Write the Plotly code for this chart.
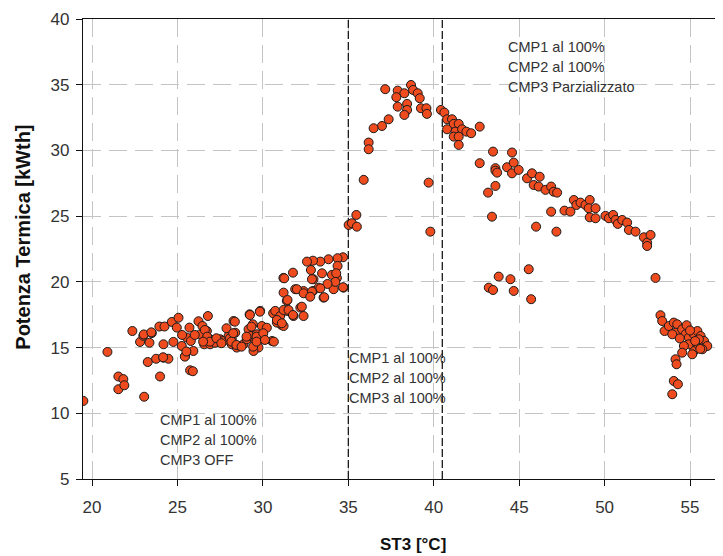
import plotly.graph_objects as go

# ST3 [°C] and Potenza Termica [kWth]
st3 = [
    19.49, 20.9, 21.54, 21.83, 21.54, 21.89, 22.36, 23.05, 22.81, 23.0, 23.36, 23.5, 23.26, 23.75, 23.98,
    23.94, 24.24, 24.18, 24.18, 24.47, 24.76, 24.67, 25.06, 24.96, 25.25, 25.45, 25.55, 25.7, 25.78, 25.74,
    25.9, 25.93, 26.23, 26.33, 26.46, 26.56, 26.72, 26.78, 26.91, 26.91, 27.2, 27.5, 27.69, 27.99, 28.18,
    28.28, 28.38, 28.18, 28.47, 28.67, 28.86, 29.06, 29.16, 29.22, 29.3, 29.41, 29.55, 29.65, 29.74, 29.84,
    29.94, 30.04, 30.23, 30.53, 29.45, 23.03, 23.47, 25.27, 26.01, 26.6, 26.74, 26.9, 26.5, 27.28, 27.57,
    28.07, 27.87, 28.36, 28.26, 28.16, 28.45, 28.75, 29.04, 29.33, 29.24, 29.82, 29.63, 30.02, 29.43, 29.63,
    30.12, 30.64, 30.6, 30.9, 31.09, 24.16, 25.43, 25.52,
    31.2, 31.89, 32.38, 32.96, 32.93, 33.26, 33.55, 34.14, 34.33, 34.72, 32.19, 32.38, 31.79, 31.4, 31.21,
    30.72, 30.82, 31.21, 31.4, 31.01, 34.69, 34.37, 33.84, 33.36, 32.93, 32.58, 32.81, 33.46, 34.04, 34.37,
    34.29, 31.76, 31.25, 32.87, 34.24, 33.78, 33.36, 34.69, 31.99, 32.38, 32.87, 33.59, 32.77, 31.44, 32.28,
    31.21, 31.5, 31.76, 30.82, 31.11,
    35.9, 39.7, 39.8, 35.47, 35.02, 35.21, 35.5, 37.16, 37.89, 38.28, 38.67, 38.79, 39.06, 39.18, 37.81,
    38.44, 37.89, 38.44, 38.28, 39.25, 39.57, 39.6, 37.36, 36.97, 36.48, 36.19, 36.19,
    40.42, 40.62, 40.78, 41.07, 41.17, 41.46, 40.78, 41.27, 41.66, 41.91, 42.19, 42.69, 41.17, 41.46, 41.46,
    43.47, 42.69, 43.61, 44.58, 43.61, 43.71, 44.29, 44.68, 44.58, 44.97, 45.46, 45.75, 46.2, 45.85, 46.14,
    46.54, 46.87, 47.02, 47.22, 43.61, 43.18, 46.87, 43.41, 45.99, 47.18, 47.65, 48.0, 48.2, 48.35, 48.59,
    48.88, 49.13, 49.07, 49.47, 49.13, 49.47, 50.05, 50.25, 50.5, 50.64, 50.77, 51.03, 51.32, 51.42, 51.81,
    52.3, 52.49, 52.69, 52.49, 45.56, 43.8, 44.49, 52.98, 43.22, 43.47, 44.68, 45.7,
    53.27, 53.37, 53.51, 53.76, 54.05, 54.25, 54.15, 53.96, 54.54, 54.8, 54.74, 54.93, 55.23, 55.43, 55.62,
    55.82, 56.01, 55.72, 55.23, 54.93, 54.64, 54.54, 55.13, 55.46, 54.15, 54.21, 54.05, 54.29, 53.96, 55.52,
    55.3, 55.6, 54.4, 55.0,
]
potenza = [
    10.94, 14.67, 12.8, 12.6, 11.83, 12.13, 16.26, 11.26, 15.43, 15.9, 15.37, 16.1, 13.9, 14.15, 12.8,
    16.6, 16.6, 15.25, 14.23, 14.15, 15.43, 16.95, 17.27, 16.52, 15.12, 14.36, 15.76, 16.52, 15.5, 13.27,
    13.2, 14.74, 17.0, 16.0, 16.64, 15.25, 16.26, 17.4, 15.63, 15.25, 15.37, 15.63, 15.5, 15.88, 15.63,
    17.02, 16.13, 15.25, 15.0, 15.12, 15.25, 15.63, 16.39, 17.53, 15.88, 16.77, 15.5, 16.01, 15.0, 17.79,
    16.64, 15.63, 16.51, 15.5, 14.74, 16.0, 16.16, 15.96, 15.96, 16.34, 15.83, 15.45, 15.45, 15.71, 15.33,
    15.71, 16.47, 16.97, 16.09, 15.45, 15.2, 15.07, 15.83, 16.59, 17.48, 17.73, 15.83, 16.09, 15.07, 15.45,
    15.58, 15.45, 17.61, 17.1, 16.72, 14.26, 14.31, 14.7,
    20.3, 19.44, 19.3, 20.2, 19.3, 19.56, 18.8, 19.44, 20.3, 19.56, 18.04, 17.4, 17.4, 18.55, 19.18,
    17.79, 16.9, 16.64, 17.79, 17.4, 21.87, 21.8, 21.72, 21.54, 21.61, 21.54, 20.9, 20.65, 20.53, 21.21,
    20.65, 20.7, 20.27, 20.2, 20.0, 19.84, 19.51, 19.59, 19.44, 19.13, 19.26, 18.83, 18.87, 18.62, 18.11,
    17.86, 17.86, 17.48, 17.1, 16.85,
    27.76, 27.55, 23.82, 25.09, 24.33, 24.46, 24.2, 34.66, 34.55, 34.35, 34.98, 34.6, 34.35, 33.97, 34.05,
    33.54, 33.33, 33.08, 32.7, 33.21, 33.21, 32.78, 32.37, 31.86, 31.69, 30.6, 30.09,
    33.08, 32.88, 32.37, 32.37, 32.02, 32.02, 31.61, 31.43, 31.61, 31.43, 31.31, 31.81, 31.05, 31.05, 30.42,
    29.91, 29.03, 28.65, 29.84, 28.46, 28.31, 28.72, 29.07, 28.26, 28.52, 27.88, 28.26, 28.0, 27.37, 27.25,
    27.0, 27.25, 26.86, 26.79, 27.3, 26.79, 25.34, 24.96, 24.2, 23.82, 25.42, 25.34, 26.23, 25.85, 26.03,
    25.85, 26.23, 25.6, 25.6, 24.91, 24.84, 25.02, 24.84, 25.09, 24.71, 24.41, 24.71, 24.51, 23.95, 23.82,
    23.39, 22.98, 23.57, 22.73, 20.96, 20.4, 20.2, 20.3, 19.56, 19.38, 19.31, 18.68,
    17.46, 17.02, 16.26, 16.64, 16.9, 16.77, 16.13, 16.01, 16.39, 16.7, 16.01, 15.76, 16.01, 16.26, 15.88,
    15.5, 15.12, 14.87, 14.74, 15.25, 15.12, 14.61, 14.49, 15.25, 14.11, 13.73, 12.46, 12.21, 11.45, 15.63,
    15.5, 14.9, 15.7, 16.3,
]

# regime boundaries (°C)
boundaries = [35.0, 40.5]

# regime labels: (x, first-line y, lines)
label_x = [23.84, 34.9, 44.24]
label_y = [9.47, 14.23, 37.9]
label_lines = [
    ["CMP1 al 100%", "CMP2 al 100%", "CMP3 OFF"],
    ["CMP1 al 100%", "CMP2 al 100%", "CMP3 al 100%"],
    ["CMP1 al 100%", "CMP2 al 100%", "CMP3 Parzializzato"],
]
line_step = 1.52  # data units between lines

x_ticks = [20, 25, 30, 35, 40, 45, 50, 55]
y_ticks = [5, 10, 15, 20, 25, 30, 35, 40]

fig = go.Figure()
fig.add_trace(go.Scatter(
    x=st3, y=potenza, mode="markers",
    marker=dict(size=9, color="#EE4B1F", line=dict(color="#1a1a1a", width=1)),
    showlegend=False, hoverinfo="skip",
))

for b in boundaries:
    fig.add_shape(type="line", x0=b, x1=b, y0=5, y1=40, xref="x", yref="y",
                  line=dict(color="#1a1a1a", width=1.3, dash="8px,3px"), layer="between")

for lx, ly, lines in zip(label_x, label_y, label_lines):
    for i, t in enumerate(lines):
        fig.add_annotation(x=lx, y=ly - i * line_step, text=t, showarrow=False,
                           xanchor="left", yanchor="middle",
                           font=dict(family="Liberation Sans, Arial", size=14.5, color="#333333"))

fig.add_annotation(xref="paper", yref="paper", x=0.516, y=-0.143, text="<b>ST3 [°C]</b>",
                   showarrow=False, xanchor="center", yanchor="middle",
                   font=dict(family="Liberation Sans, Arial", size=17, color="#111111"))
fig.add_annotation(xref="paper", yref="paper", x=-0.095, y=0.525, text="<b>Potenza Termica [kWth]</b>",
                   showarrow=False, xanchor="center", yanchor="middle", textangle=-90,
                   font=dict(family="Liberation Sans, Arial", size=20, color="#111111"))

grid = dict(showgrid=True, gridcolor="#C4C4C4", gridwidth=1.3, griddash="18px,8px")
tickfont = dict(family="Liberation Sans, Arial", size=17, color="#333333")
fig.update_xaxes(range=[19.47, 56.93], tickvals=x_ticks, ticks="outside", ticklen=6,
                 tickcolor="#111111", showline=True, linecolor="#111111", linewidth=1.3,
                 mirror=True, zeroline=False, ticklabelstandoff=6, tickfont=tickfont, **grid)
fig.update_yaxes(range=[5, 40], tickvals=y_ticks, ticks="outside", ticklen=6,
                 tickcolor="#111111", showline=True, linecolor="#111111", linewidth=1.3,
                 zeroline=False, ticklabelstandoff=3, tickfont=tickfont, **grid)

# page body has an 8px margin, so the figure is 715x548 and offset by 8px
fig.update_layout(width=715, height=548, margin=dict(l=75, r=0, t=11, b=77),
                  plot_bgcolor="white", paper_bgcolor="white")
fig.write_html("out.html")
